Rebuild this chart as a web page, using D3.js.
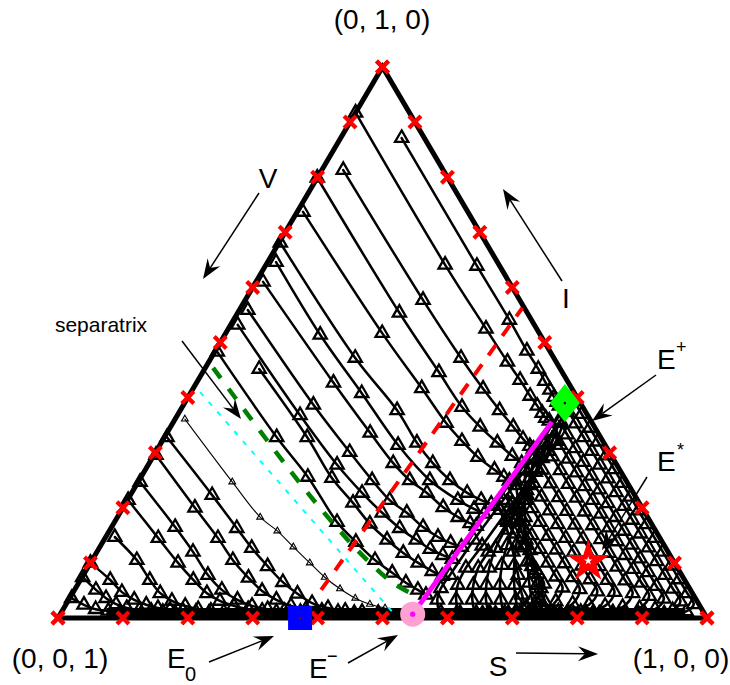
<!DOCTYPE html>
<html>
<head>
<meta charset="utf-8">
<script src="https://cdnjs.cloudflare.com/ajax/libs/d3/7.8.5/d3.min.js"></script>
<style>
  body { margin: 0; background: #fff; }
  svg { display: block; }
  text { font-family: "Liberation Sans", Arial, Helvetica, sans-serif; fill: #000; }
</style>
</head>
<body>
<svg id="chart" width="730" height="685"></svg>
<script>
// ---- data: ternary points are [S, I]; V = 1 - S - I ----
const edgeTicks = [0, 0.1, 0.2, 0.3, 0.4, 0.5, 0.6, 0.7, 0.8, 0.9, 1];

// orbits that settle on the segment of endemic equilibria (from the left)
const upperFlows = [
  [[0.094,0.871],[0.326,0.639],[0.425,0.541],[0.480,0.485],[0.514,0.452],[0.535,0.430],[0.551,0.414],[0.564,0.401],[0.573,0.392],[0.580,0.385]],
  [[0.000,0.917],[0.276,0.641],[0.397,0.525],[0.460,0.465],[0.496,0.432],[0.526,0.403],[0.546,0.385],[0.560,0.372],[0.570,0.363],[0.578,0.358]],
  [[0.033,0.813],[0.274,0.577],[0.385,0.472],[0.447,0.416],[0.492,0.377],[0.528,0.347],[0.554,0.325],[0.571,0.312],[0.579,0.307]],
  [[0.000,0.799],[0.249,0.554],[0.364,0.446],[0.431,0.383],[0.477,0.347],[0.518,0.318],[0.553,0.294],[0.574,0.281]],
  [[0.009,0.737],[0.241,0.517],[0.352,0.417],[0.421,0.354],[0.462,0.321],[0.501,0.292],[0.538,0.269],[0.559,0.256],[0.571,0.249]],
  [[0.002,0.681],[0.222,0.472],[0.334,0.377],[0.394,0.318],[0.437,0.281],[0.479,0.250],[0.517,0.227],[0.545,0.214],[0.564,0.207]],
  [[0.013,0.646],[0.147,0.514],[0.264,0.408],[0.367,0.314],[0.448,0.250],[0.509,0.214],[0.542,0.198],[0.562,0.189]],
  [[0.011,0.610],[0.211,0.427],[0.313,0.336],[0.376,0.281],[0.417,0.250],[0.455,0.227],[0.493,0.201],[0.525,0.183],[0.549,0.172],[0.561,0.167]],
  [[0.013,0.559],[0.200,0.387],[0.299,0.301],[0.359,0.250],[0.404,0.214],[0.442,0.191],[0.480,0.165],[0.512,0.147],[0.537,0.136],[0.557,0.129]],
  [[0.011,0.532],[0.189,0.368],[0.291,0.278],[0.355,0.227],[0.404,0.191],[0.445,0.163],[0.481,0.142],[0.511,0.125],[0.536,0.114],[0.554,0.107]],
  [[0.084,0.452],[0.220,0.328],[0.295,0.254],[0.350,0.209],[0.395,0.171],[0.436,0.142],[0.473,0.118],[0.505,0.100],[0.534,0.085],[0.554,0.076]],
  [[0.004,0.483],[0.173,0.328],[0.257,0.256],[0.343,0.174],[0.390,0.138],[0.436,0.105],[0.474,0.082],[0.504,0.064],[0.529,0.051],[0.546,0.042]]
];

// orbits that die out on the disease-free edge (I = 0)
const lowerFlows = [
  [[0.004,0.328],[0.126,0.223],[0.194,0.163],[0.235,0.127],[0.276,0.094],[0.314,0.065],[0.347,0.044],[0.378,0.027],[0.407,0.018],[0.436,0.013],[0.463,0.011],[0.489,0.009]],
  [[0.003,0.296],[0.111,0.200],[0.174,0.145],[0.217,0.105],[0.257,0.073],[0.290,0.049],[0.320,0.033],[0.348,0.022],[0.374,0.016],[0.400,0.013],[0.426,0.011],[0.452,0.009]],
  [[0.003,0.247],[0.098,0.165],[0.148,0.120],[0.192,0.078],[0.227,0.051],[0.260,0.033],[0.288,0.022],[0.315,0.016],[0.342,0.013],[0.368,0.011],[0.393,0.009]],
  [[0.001,0.214],[0.082,0.145],[0.135,0.100],[0.174,0.069],[0.207,0.045],[0.234,0.031],[0.260,0.022],[0.285,0.016],[0.308,0.013],[0.331,0.011],[0.353,0.009]],
  [[0.014,0.147],[0.069,0.105],[0.107,0.069],[0.135,0.045],[0.160,0.031],[0.185,0.022],[0.208,0.016],[0.229,0.013],[0.250,0.011],[0.273,0.009]],
  [[0.000,0.100],[0.046,0.069],[0.075,0.047],[0.101,0.033],[0.124,0.024],[0.145,0.018],[0.165,0.015],[0.186,0.013],[0.207,0.011],[0.228,0.009]],
  [[0.001,0.074],[0.033,0.051],[0.056,0.036],[0.077,0.025],[0.097,0.018],[0.118,0.015],[0.137,0.013],[0.156,0.011],[0.176,0.009]],
  [[0.003,0.036],[0.028,0.024],[0.050,0.016],[0.071,0.013],[0.090,0.011]]
];

// orbit started just below the separatrix (drawn light)
const slowFlow = [[0.015,0.361],[0.145,0.247],[0.220,0.183],[0.259,0.158],[0.298,0.129],[0.338,0.100],[0.374,0.074],[0.408,0.053],[0.440,0.036],[0.468,0.025],[0.495,0.018]];

// orbits on the right of the equilibrium segment
const loopFlows = [
  [[0.598,0.394],[0.622,0.370],[0.647,0.345],[0.672,0.320],[0.697,0.295],[0.722,0.270],[0.747,0.245],[0.772,0.220],[0.797,0.195],[0.822,0.170],[0.847,0.145],[0.872,0.120],[0.897,0.095],[0.922,0.070],[0.947,0.045],[0.967,0.025],[0.962,0.012],[0.930,0.008],[0.890,0.008],[0.850,0.008],[0.810,0.008],[0.770,0.008],[0.730,0.008],[0.690,0.008],[0.650,0.008],[0.610,0.008],[0.585,0.010],[0.568,0.033],[0.563,0.054],[0.565,0.078],[0.570,0.142],[0.579,0.214],[0.587,0.287],[0.595,0.358],[0.598,0.394]],
  [[0.596,0.378],[0.621,0.353],[0.646,0.328],[0.671,0.303],[0.696,0.278],[0.721,0.253],[0.746,0.228],[0.771,0.203],[0.796,0.178],[0.821,0.153],[0.846,0.128],[0.871,0.103],[0.896,0.078],[0.921,0.053],[0.944,0.030],[0.940,0.014],[0.900,0.008],[0.860,0.008],[0.820,0.008],[0.780,0.008],[0.740,0.008],[0.700,0.008],[0.660,0.008],[0.615,0.009],[0.597,0.033],[0.586,0.060],[0.583,0.091],[0.588,0.131],[0.595,0.196],[0.603,0.265],[0.607,0.321],[0.597,0.374]],
  [[0.593,0.358],[0.618,0.333],[0.643,0.308],[0.668,0.283],[0.693,0.258],[0.718,0.233],[0.743,0.208],[0.768,0.183],[0.793,0.158],[0.818,0.133],[0.843,0.108],[0.868,0.083],[0.893,0.058],[0.916,0.035],[0.912,0.016],[0.870,0.009],[0.830,0.008],[0.790,0.008],[0.750,0.008],[0.710,0.008],[0.670,0.008],[0.640,0.009],[0.622,0.033],[0.610,0.060],[0.602,0.091],[0.603,0.120],[0.606,0.174],[0.607,0.241],[0.604,0.303],[0.595,0.354]],
  [[0.592,0.339],[0.617,0.314],[0.642,0.289],[0.667,0.264],[0.692,0.239],[0.717,0.214],[0.742,0.189],[0.767,0.164],[0.792,0.139],[0.817,0.114],[0.842,0.089],[0.867,0.064],[0.891,0.040],[0.887,0.018],[0.850,0.010],[0.810,0.008],[0.770,0.008],[0.730,0.008],[0.690,0.008],[0.661,0.009],[0.643,0.033],[0.630,0.060],[0.619,0.091],[0.611,0.127],[0.608,0.178],[0.606,0.232],[0.601,0.290],[0.593,0.336]],
  [[0.590,0.318],[0.615,0.293],[0.640,0.268],[0.665,0.243],[0.690,0.218],[0.715,0.193],[0.740,0.168],[0.765,0.143],[0.790,0.118],[0.815,0.093],[0.840,0.068],[0.863,0.045],[0.860,0.020],[0.820,0.010],[0.780,0.008],[0.740,0.008],[0.700,0.008],[0.684,0.009],[0.666,0.033],[0.651,0.060],[0.636,0.096],[0.626,0.132],[0.617,0.178],[0.611,0.223],[0.602,0.272],[0.592,0.314]],
  [[0.587,0.294],[0.612,0.269],[0.637,0.244],[0.662,0.219],[0.687,0.194],[0.712,0.169],[0.737,0.144],[0.762,0.119],[0.787,0.094],[0.812,0.069],[0.834,0.047],[0.832,0.022],[0.800,0.011],[0.760,0.008],[0.720,0.008],[0.707,0.009],[0.689,0.033],[0.673,0.060],[0.655,0.096],[0.640,0.132],[0.625,0.174],[0.613,0.214],[0.600,0.254],[0.588,0.290]],
  [[0.585,0.270],[0.610,0.245],[0.635,0.220],[0.660,0.195],[0.685,0.170],[0.710,0.145],[0.735,0.120],[0.760,0.095],[0.785,0.070],[0.807,0.048],[0.806,0.024],[0.780,0.011],[0.750,0.009],[0.732,0.009],[0.714,0.033],[0.694,0.064],[0.672,0.102],[0.650,0.142],[0.628,0.183],[0.607,0.225],[0.586,0.267]],
  [[0.581,0.249],[0.606,0.224],[0.631,0.199],[0.656,0.174],[0.681,0.149],[0.706,0.124],[0.731,0.099],[0.756,0.074],[0.778,0.052],[0.780,0.026],[0.765,0.012],[0.750,0.009],[0.736,0.029],[0.717,0.054],[0.693,0.087],[0.666,0.123],[0.636,0.163],[0.608,0.205],[0.585,0.241]],
  [[0.580,0.225],[0.605,0.200],[0.630,0.175],[0.655,0.150],[0.680,0.125],[0.705,0.100],[0.730,0.075],[0.750,0.055],[0.752,0.030],[0.742,0.013],[0.726,0.033],[0.708,0.060],[0.683,0.094],[0.655,0.132],[0.623,0.174],[0.595,0.209]],
  [[0.577,0.203],[0.602,0.178],[0.627,0.153],[0.652,0.128],[0.677,0.103],[0.700,0.080],[0.718,0.062],[0.722,0.036],[0.712,0.020],[0.694,0.042],[0.670,0.078],[0.641,0.120],[0.612,0.160],[0.583,0.196]]
];

// where the tails pile up along I = 0
const restBand = [[0.070,0.009],[0.962,0.009]];

const separatrix = [[0.012,0.454],[0.250,0.245],[0.364,0.151],[0.424,0.105],[0.482,0.065],[0.536,0.038]];
const basinEdge = [[0.014,0.410],[0.517,0.005]];
const nullcline = [[0.380,0.051],[0.434,0.563]];
const equilibriumLine = [[0.543,0.007],[0.583,0.356]];

const ePlus = [0.586, 0.390];
const eMinus = [0.543, 0.007];
const eZero = [0.373, 0.000];
const eStar = [0.766, 0.102];

const cornerLabels = ["(0, 1, 0)", "(0, 0, 1)", "(1, 0, 0)"];

// ---- scales: horizontal position is S + I/2, vertical is I ----
const x = d3.scaleLinear().domain([0, 1]).range([58, 707]);
const y = d3.scaleLinear().domain([0, 1]).range([618, 67]);
const px = p => x(p[0] + p[1] / 2);
const py = p => y(p[1]);

const svg = d3.select("#chart");
const smooth = d3.line().x(px).y(py).curve(d3.curveCatmullRom.alpha(0.5));
const straight = d3.line().x(px).y(py);

// simplex frame
svg.append("path")
  .attr("d", straight([[0, 0], [1, 0], [0, 1]]) + "Z")
  .attr("fill", "none").attr("stroke", "#000")
  .attr("stroke-width", 5).attr("stroke-linejoin", "miter");

// trajectories
const gFlow = svg.append("g").attr("fill", "none").attr("stroke", "#000")
  .attr("stroke-linejoin", "round").attr("stroke-linecap", "round");
gFlow.selectAll("path.up").data(upperFlows).join("path").attr("class", "up")
  .attr("d", smooth).attr("stroke-width", 2.5);
gFlow.selectAll("path.low").data(lowerFlows).join("path").attr("class", "low")
  .attr("d", smooth).attr("stroke-width", 2.5);
gFlow.selectAll("path.loop").data(loopFlows).join("path").attr("class", "loop")
  .attr("d", smooth).attr("stroke-width", 2.6);
gFlow.append("path").attr("d", smooth(slowFlow)).attr("stroke-width", 1.1);

svg.append("path").attr("d", straight(restBand))
  .attr("fill", "none").attr("stroke", "#000").attr("stroke-width", 10);

// triangle markers at every sample
const triBig = d3.symbol().type(d3.symbolTriangle).size(76)();
const triSmall = d3.symbol().type(d3.symbolTriangle).size(20)();
const samples = [].concat(...upperFlows, ...lowerFlows, ...loopFlows);
const gMark = svg.append("g").attr("fill", "none").attr("stroke", "#000");
gMark.selectAll("path.m").data(samples).join("path").attr("class", "m")
  .attr("d", triBig).attr("stroke-width", 2.3)
  .attr("transform", d => `translate(${px(d)},${py(d)})`);
gMark.selectAll("path.s").data(slowFlow).join("path").attr("class", "s")
  .attr("d", triSmall).attr("stroke-width", 1.1)
  .attr("transform", d => `translate(${px(d)},${py(d)})`);

// boundary curves
svg.append("path").attr("d", straight(basinEdge))
  .attr("fill", "none").attr("stroke", "#00ffff").attr("stroke-width", 2)
  .attr("stroke-dasharray", "5,8");
svg.append("path").attr("d", smooth(separatrix))
  .attr("fill", "none").attr("stroke", "#008000").attr("stroke-width", 4.5)
  .attr("stroke-dasharray", "13,13");
svg.append("path").attr("d", straight(nullcline))
  .attr("fill", "none").attr("stroke", "#ff0000").attr("stroke-width", 4)
  .attr("stroke-dasharray", "13,11");
svg.append("path").attr("d", straight(equilibriumLine))
  .attr("fill", "none").attr("stroke", "#ff00ff").attr("stroke-width", 5);

// initial-condition crosses on the edges
const crosses = [].concat(
  edgeTicks.map(t => [0, t]),
  edgeTicks.map(t => [1 - t, t]),
  edgeTicks.map(t => [t, 0])
);
svg.append("g").selectAll("path").data(crosses).join("path")
  .attr("d", "M-6,-6L6,6M-6,6L6,-6")
  .attr("stroke", "#ff0000").attr("stroke-width", 4.2)
  .attr("transform", d => `translate(${px(d)},${py(d)})`);

// equilibria
const gEq = svg.append("g");
gEq.append("rect")
  .attr("x", px(eZero) - 12).attr("y", py(eZero) - 12)
  .attr("width", 24).attr("height", 24).attr("fill", "#0000ff");
gEq.append("circle").attr("cx", px(eZero)).attr("cy", py(eZero)).attr("r", 1.3).attr("fill", "#8b0000");

gEq.append("circle").attr("cx", px(eMinus)).attr("cy", py(eMinus)).attr("r", 12.5).attr("fill", "#ff9fd2");
gEq.append("circle").attr("cx", px(eMinus)).attr("cy", py(eMinus)).attr("r", 2.6).attr("fill", "#ff00ff");

gEq.append("path").attr("d", "M0,-19L15,0L0,19L-15,0Z").attr("fill", "#00ff00")
  .attr("transform", `translate(${px(ePlus)},${py(ePlus)})`);
gEq.append("circle").attr("cx", px(ePlus)).attr("cy", py(ePlus)).attr("r", 1.3).attr("fill", "#000");

gEq.append("path").attr("d", d3.symbol().type(d3.symbolStar).size(560)())
  .attr("fill", "#ff0000").attr("transform", `translate(${px(eStar)},${py(eStar)})`);
gEq.append("path").attr("d", d3.symbol().type(d3.symbolStar).size(22)())
  .attr("fill", "#fff").attr("transform", `translate(${px(eStar)},${py(eStar) - 1})`);

// annotation arrows (pixel layout)
const arrows = [
  [[259, 193], [203, 279]],
  [[562, 281], [503, 189]],
  [[656, 375], [592, 421]],
  [[647, 477], [602, 550]],
  [[182, 341], [241, 419]],
  [[209, 662], [274, 636]],
  [[348, 663], [398, 635]],
  [[516, 653], [598, 654]]
];
const gArr = svg.append("g");
arrows.forEach(([a, b]) => {
  const dx = b[0] - a[0], dy = b[1] - a[1], len = Math.hypot(dx, dy);
  const ux = dx / len, uy = dy / len, nx = -uy, ny = ux;
  const L = 20, Wd = 7.5, N = 13;
  const bx = b[0] - ux * L, by = b[1] - uy * L;
  const cx = b[0] - ux * N, cy = b[1] - uy * N;
  gArr.append("line").attr("x1", a[0]).attr("y1", a[1]).attr("x2", cx).attr("y2", cy)
    .attr("stroke", "#000").attr("stroke-width", 1.5);
  gArr.append("path")
    .attr("d", `M${b[0]},${b[1]}L${bx + nx * Wd},${by + ny * Wd}L${cx},${cy}L${bx - nx * Wd},${by - ny * Wd}Z`)
    .attr("fill", "#000");
});

// labels
const gTxt = svg.append("g");
function label(txt, xx, yy, size, anchor) {
  return gTxt.append("text").attr("x", xx).attr("y", yy)
    .attr("font-size", size).attr("text-anchor", anchor || "start").text(txt);
}
label(cornerLabels[0], 382, 29, 28, "middle");
label(cornerLabels[1], 60, 668, 28, "middle");
label(cornerLabels[2], 681, 668, 28, "middle");
label("V", 268, 188, 28, "middle");
label("I", 566, 308, 28, "middle");
label("S", 498, 676, 28, "middle");
label("separatrix", 101, 332, 21, "middle");
label("E", 657, 369, 28);
label("+", 676, 353, 18);
label("E", 657, 471, 28);
label("*", 677, 456, 18);
label("E", 167, 668, 28);
label("0", 185, 681, 20);
label("E", 309, 678, 28);
label("\u2212", 327, 662, 18);
</script>
</body>
</html>
